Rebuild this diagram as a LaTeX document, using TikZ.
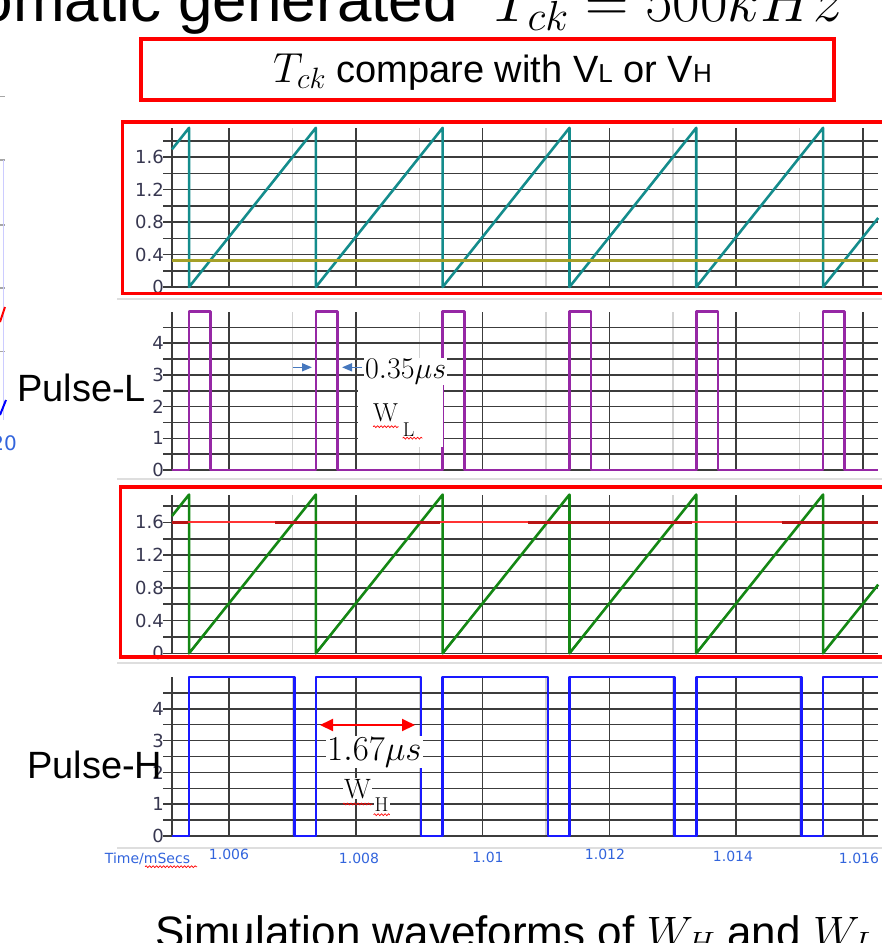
\RequirePackage{fix-cm}
\documentclass[tikz,border=0pt]{standalone}
\usepackage[no-math]{fontspec}
\setmainfont{Liberation Sans}
\newfontfamily\tickfont{DejaVu Sans}
\usetikzlibrary{positioning,arrows.meta,decorations.pathmorphing}
\definecolor{boxRed}{RGB}{255,0,0}
\definecolor{sawTeal}{RGB}{20,140,140}
\definecolor{sawGreen}{RGB}{20,135,20}
\definecolor{levelYellow}{RGB}{165,160,40}
\definecolor{levelRed}{RGB}{255,50,50}
\definecolor{darkRed}{RGB}{185,20,20}
\definecolor{pulseViolet}{RGB}{150,40,165}
\definecolor{pulseBlue}{RGB}{25,25,255}
\definecolor{axisBlue}{RGB}{50,100,220}
\definecolor{tickColor}{RGB}{55,55,80}
\definecolor{gridColor}{RGB}{60,60,60}
\definecolor{faintGrid}{RGB}{210,210,210}
\definecolor{sepColor}{RGB}{222,222,222}
\definecolor{noteBlue}{RGB}{70,120,190}

\begin{document}
\begin{tikzpicture}[x=1pt,y=-1pt]
  \tikzstyle{frame} = [draw=boxRed,line width=3.6pt]
  \tikzstyle{sep} = [draw=sepColor,line width=2pt]
  \tikzstyle{hgrid} = [draw=gridColor,line width=1.5pt]
  \tikzstyle{vgrid} = [draw=gridColor,line width=1.5pt]
  \tikzstyle{lgrid} = [draw=faintGrid,line width=1.4pt]
  \tikzstyle{wave} = [line width=2.6pt,line join=round]
  \tikzstyle{ytick} = [anchor=east,inner sep=0pt,text=tickColor,font=\tickfont\fontsize{18}{18}\selectfont]
  \tikzstyle{xtick} = [inner sep=0pt,text=axisBlue,font=\tickfont\fontsize{14}{14}\selectfont]
  \tikzstyle{pulselabel} = [anchor=base west,inner sep=0pt,font=\fontsize{38}{38}\selectfont]
  \tikzstyle{squiggle} = [draw=red,line width=0.7pt,decorate,decoration={snake,amplitude=0.9pt,segment length=3.5pt}]
  \tikzset{>={Triangle[length=10pt,width=8pt]}}

  \useasboundingbox (0,0) rectangle (882,943);
  \clip (0,0) rectangle (882,943);

  \node[anchor=base east,inner sep=0pt,font=\fontsize{62}{62}\selectfont] (title) at (458,21) {Automatic generated};
  \node[anchor=base west,inner sep=0pt,font=\fontsize{60}{60}\selectfont] (titlemath) at (493,21) {$T_{ck}=500kHz$};

  \node[frame,minimum width=693pt,minimum height=61pt,inner sep=0pt] (cmpbox) at (487.5,69.5) {};
  \node[anchor=base,inner sep=0pt,font=\fontsize{38}{38}\selectfont] (cmptext) at (492.5,82)
    {{\fontsize{42}{42}\selectfont$T_{ck}$} compare with V{\fontsize{26}{26}\selectfont L} or V{\fontsize{26}{26}\selectfont H}};

  \foreach \y in {96.7,160,225,288,351.7} \draw[gray!70,line width=1.5pt] (0,\y) -- (5,\y);
  \draw[blue!20,line width=1pt] (3,160) -- (3,420);
  \draw[red,line width=2pt] (0,322) -- (5,307);
  \draw[blue,line width=2pt] (0,415) -- (6,400);
  \node[anchor=east,inner sep=0pt,text=axisBlue,font=\tickfont\fontsize{20}{20}\selectfont] (prev) at (17,443) {20};

  \foreach \y in {299,479,663,848} \draw[sep] (117,\y) -- (882,\y);

  \begin{scope}[shift={(-151.4,287)},x=63.4pt,y=81.2pt]
    \foreach \t in {7,9,...,15} \draw[lgrid] (\t,0) -- (\t,1.96);
    \foreach \t in {5.1,6,8,10,12,14,16} \draw[vgrid] (\t,0) -- (\t,1.96);
    \foreach \v in {0,0.2,...,1.8} \draw[hgrid] (4.96,\v) -- (16.24,\v);
    \foreach \v [count=\i] in {0,0.4,0.8,1.2,1.6} \node[ytick] (ya\i) at (4.975,\v) {\v};
    \draw[wave,sawTeal] (5.1,1.695) foreach \k in {0,...,5} {-- ({5.37+2*\k},1.96) -- ({5.37+2*\k},0)} -- (16.24,0.85);
    \draw[levelYellow,line width=2.8pt] (5.1,0.325) -- (16.24,0.325);
  \end{scope}

  \begin{scope}[shift={(-151.4,470)},x=63.4pt,y=31.7pt]
    \foreach \t in {7,9,...,15} \draw[lgrid] (\t,0) -- (\t,5);
    \foreach \t in {5.1,6,8,10,12,14,16} \draw[vgrid] (\t,0) -- (\t,5);
    \foreach \v in {0,0.5,...,4.5} \draw[hgrid] (4.96,\v) -- (16.24,\v);
    \foreach \v in {0,...,4} \node[ytick] (yb\v) at (4.975,\v) {\v};
    \draw[wave,pulseViolet] (5.1,0) foreach \k in {0,...,5} {-- ({5.37+2*\k},0) -- ({5.37+2*\k},5) -- ({5.71+2*\k},5) -- ({5.71+2*\k},0)} -- (16.24,0);
  \end{scope}

  \begin{scope}[shift={(-151.4,653.3)},x=63.4pt,y=81.8pt]
    \foreach \t in {7,9,...,15} \draw[lgrid] (\t,0) -- (\t,1.94);
    \foreach \t in {5.1,6,8,10,12,14,16} \draw[vgrid] (\t,0) -- (\t,1.94);
    \foreach \v in {0,0.2,...,1.8} \draw[hgrid] (4.96,\v) -- (16.24,\v);
    \foreach \v [count=\i] in {0,0.4,0.8,1.2,1.6} \node[ytick] (yc\i) at (4.975,\v) {\v};
    \draw[wave,sawGreen] (5.1,1.678) foreach \k in {0,...,5} {-- ({5.37+2*\k},1.94) -- ({5.37+2*\k},0)} -- (16.24,0.84);
    \draw[levelRed,line width=2pt] (5.1,1.6) -- (16.24,1.6);
    \foreach \a/\b in {5.1/5.36,6.73/9.33,10.72/13.3,14.72/16.24} \draw[darkRed,line width=2.6pt] (\a,1.6) -- (\b,1.6);
  \end{scope}

  \begin{scope}[shift={(-151.4,836)},x=63.4pt,y=31.8pt]
    \foreach \t in {7,9,...,15} \draw[lgrid] (\t,0) -- (\t,5);
    \foreach \t in {5.1,6,8,10,12,14,16} \draw[vgrid] (\t,0) -- (\t,5);
    \foreach \v in {0,0.5,...,4.5} \draw[hgrid] (4.96,\v) -- (16.24,\v);
    \foreach \v in {0,...,4} \node[ytick] (yd\v) at (4.975,\v) {\v};
    \draw[wave,pulseBlue] (5.1,0) foreach \k in {0,...,4} {-- ({5.37+2*\k},0) -- ({5.37+2*\k},5) -- ({7.03+2*\k},5) -- ({7.03+2*\k},0)} -- (15.37,0) -- (15.37,5) -- (16.24,5);
  \end{scope}

  \draw[frame] (122.5,122) rectangle (895,293.3);
  \draw[frame] (120.5,486.7) rectangle (895,656.7);

  \node[pulselabel] (pulsel) at (17,401.7) {Pulse-L};
  \node[pulselabel] (pulseh) at (27,778.3) {Pulse-H};

  \coordinate (wlaa) at (292.7,367.3);
  \coordinate (wlab) at (312,367.3);
  \coordinate (wlba) at (362,367.3);
  \coordinate (wlbb) at (342,367.3);
  \draw[->,noteBlue,line width=1.6pt] (wlaa) -- (wlab);
  \draw[->,noteBlue,line width=1.6pt] (wlba) -- (wlbb);
  \node[anchor=base west,fill=white,inner sep=1pt,font=\fontsize{30}{30}\selectfont] (wltime) at (364,378.3) {$0.35\mu s$};
  \node[fill=white,inner sep=0pt,minimum width=85pt,minimum height=62pt] (wlbox) at (400.5,416) {};
  \node[anchor=base west,inner sep=0pt,font=\fontsize{26}{26}\selectfont] (wlw) at (373,421.7) {$\mathrm{W}$};
  \node[anchor=base west,inner sep=0pt,font=\fontsize{20}{20}\selectfont] (wll) at ([xshift=4pt,yshift=-15pt]wlw.base east) {$\mathrm{L}$};
  \draw[squiggle] ([yshift=-5pt]wlw.base west) -- ([yshift=-5pt]wlw.base east);
  \draw[squiggle] ([yshift=-1.5pt]wll.base west) -- ([xshift=8pt,yshift=-1.5pt]wll.base east);

  \coordinate (wha) at (320,725);
  \coordinate (whb) at (415,725);
  \draw[<->,red,line width=2pt,>={Triangle[length=13pt,width=12pt]}] (wha) -- (whb);
  \node[anchor=base west,fill=white,inner sep=1pt,font=\fontsize{35}{35}\selectfont] (whtime) at (326,760) {$1.67\mu s$};
  \node[anchor=base west,fill=white,inner sep=1pt,font=\fontsize{28}{28}\selectfont] (whw) at (343,798) {$\mathrm{W}$};
  \node[anchor=base west,fill=white,inner sep=1pt,font=\fontsize{20}{20}\selectfont] (whh) at ([xshift=1pt,yshift=-13.7pt]whw.base east) {$\mathrm{H}$};
  \draw[squiggle] ([yshift=-6pt]whw.base west) -- ([yshift=-6pt]whw.base east);
  \draw[squiggle] ([yshift=-3pt]whh.base west) -- ([yshift=-3pt]whh.base east);

  \node[xtick] (timelbl) at (147.5,859.3) {Time/mSecs};
  \draw[squiggle] (145,866.7) -- (197,866.7);
  \foreach \lbl/\xx/\yy [count=\i] in {1.006/229/854.3,1.008/359/858.3,1.01/488/857,1.012/605/854.3,1.014/733/856.7,1.016/859/858}
    \node[xtick] (xt\i) at (\xx,\yy) {\lbl};

  \node[anchor=base west,inner sep=0pt,font=\fontsize{44}{44}\selectfont] (caption) at (155,947) {Simulation waveforms of $W_H$ and $W_L$};
\end{tikzpicture}
\end{document}
